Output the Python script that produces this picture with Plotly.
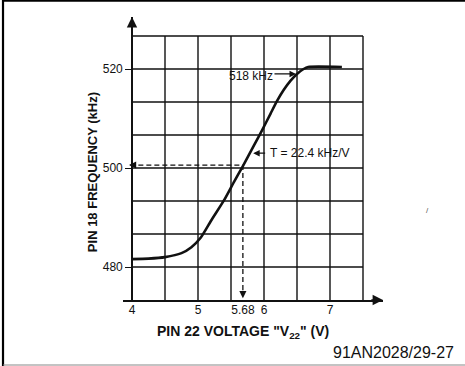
import plotly.graph_objects as go

# VCO transfer curve: pin 18 frequency versus pin 22 control voltage
voltage = [4.0, 4.25, 4.5, 4.75, 4.9, 5.04, 5.2, 5.4, 5.55, 5.68, 5.85, 5.97, 6.1, 6.2, 6.3, 6.4, 6.5, 6.6, 6.67, 7.18]
frequency = [481.6, 481.7, 482.0, 482.8, 484.0, 485.9, 489.4, 493.6, 497.3, 500.4, 504.6, 507.6, 511.0, 513.6, 515.8, 517.6, 519.0, 520.0, 520.4, 520.4]

x_ticks = [4, 5, 5.68, 6, 7]
x_tick_text = ["4", "5", "5.68", "6", "7"]
y_ticks = [480, 500, 520]
y_tick_text = ["480", "500", "520"]

# operating point and annotations
v_op, f_op = 5.68, 500.6
slope_label = "T = 22.4 kHz/V"
top_label = "518 kHz"
figure_id = "91AN2028/29-27"

# chart frame in data units
x_min, x_max = 3.8636, 7.803
y_min, y_max = 473.333, 530.505
grid_x = [4 + 0.5 * i for i in range(8)]
grid_y = [y_min + 20 / 3 * k for k in range(1, 9)]
grid_top = grid_y[-1]

FONT = "Liberation Sans, Arial, sans-serif"
INK = "#111111"

fig = go.Figure()
fig.add_trace(go.Scatter(x=voltage, y=frequency, mode="lines",
                         line=dict(color=INK, width=2.6, shape="spline", smoothing=0.6),
                         hoverinfo="skip", showlegend=False))

shapes = []
for gx in grid_x:
    shapes.append(dict(type="line", xref="x", yref="y", x0=gx, x1=gx, y0=y_min, y1=grid_top,
                       line=dict(color=INK, width=1.4), layer="below"))
for gy in grid_y:
    shapes.append(dict(type="line", xref="x", yref="y", x0=4, x1=7.5, y0=gy, y1=gy,
                       line=dict(color=INK, width=1.4), layer="below"))
# dashed construction lines through the operating point
shapes.append(dict(type="line", xref="x", yref="y", x0=3.975, x1=v_op, y0=f_op, y1=f_op,
                   line=dict(color=INK, width=1.3, dash="5px,3px")))
shapes.append(dict(type="line", xref="x", yref="y", x0=v_op, x1=v_op, y0=f_op, y1=474.2,
                   line=dict(color=INK, width=1.3, dash="5px,3px")))
# page frame
shapes.append(dict(type="line", xref="paper", yref="paper", x0=-0.4615, x1=-0.4615, y0=-0.24, y1=1.07,
                   line=dict(color="#000000", width=2.2)))
shapes.append(dict(type="line", xref="paper", yref="paper", x0=-0.4615, x1=1.32, y0=1.057, y1=1.057,
                   line=dict(color="#000000", width=1.8)))
shapes.append(dict(type="line", xref="paper", yref="paper", x0=-0.4615, x1=1.32, y0=-0.2297, y1=-0.2297,
                   line=dict(color="#888888", width=1.2)))

def arrow(x, y, ax, ay, width=1.4, size=1.2):
    return dict(x=x, y=y, ax=ax, ay=ay, xref="x", yref="y", axref="x", ayref="y",
                text="", showarrow=True, arrowhead=2, arrowsize=size, arrowwidth=width,
                arrowcolor=INK)

annotations = [
    # axis arrowheads
    arrow(4, y_max, 4, y_max - 3, width=1.6, size=1.3),
    arrow(x_max, y_min, x_max - 0.2, y_min, width=1.6, size=1.3),
    # dashed-line arrowheads
    arrow(3.955, f_op, 4.05, f_op, width=1.3, size=1.1),
    arrow(v_op, 473.7, v_op, 475.5, width=1.3, size=1.1),
    # callouts
    arrow(6.485, 519.0, 6.136, 519.0, width=1.3, size=1.0),
    arrow(5.836, 503.0, 6.04, 503.0, width=1.3, size=1.0),
    dict(x=5.803, y=518.6, xref="x", yref="y", text=top_label, showarrow=False,
         xanchor="center", yanchor="middle",
         font=dict(family=FONT, size=12, color=INK)),
    dict(x=6.06, y=503.0, xref="x", yref="y", text=slope_label, showarrow=False,
         xanchor="left", yanchor="middle",
         font=dict(family=FONT, size=12, color=INK)),
    # axis titles
    dict(x=0.4615, y=-0.113, xref="paper", yref="paper", showarrow=False,
         xanchor="center", yanchor="middle",
         text='<b>PIN 22 VOLTAGE "V<sub>22</sub>" (V)</b>',
         font=dict(family=FONT, size=14, color=INK)),
    dict(x=-0.119, y=0.452, xref="paper", yref="paper", showarrow=False, textangle=-90,
         xanchor="center", yanchor="middle",
         text="<b>PIN 18 FREQUENCY (kHz)</b>",
         font=dict(family=FONT, size=13, color=INK)),
    dict(x=1.282, y=-0.184, xref="paper", yref="paper", showarrow=False,
         xanchor="right", yanchor="middle",
         text=figure_id, font=dict(family=FONT, size=16, color=INK)),
    dict(x=1.173, y=0.318, xref="paper", yref="paper", showarrow=False,
         xanchor="center", yanchor="middle",
         text="/", font=dict(family=FONT, size=8, color="#555555")),
]

fig.update_layout(
    width=465, height=366,
    margin=dict(l=123, r=82, t=17, b=66),
    paper_bgcolor="white", plot_bgcolor="white",
    shapes=shapes, annotations=annotations,
    xaxis=dict(range=[x_min, x_max], tickvals=x_ticks, ticktext=x_tick_text,
               showgrid=False, zeroline=False, showline=True, linecolor=INK, linewidth=1.6,
               ticks="", ticklabelstandoff=-2,
               tickfont=dict(family=FONT, size=12, color=INK)),
    yaxis=dict(range=[y_min, y_max], tickvals=y_ticks, ticktext=y_tick_text,
               anchor="free", position=9 / 260,
               showgrid=False, zeroline=False, showline=True, linecolor=INK, linewidth=1.6,
               ticks="outside", ticklen=6, tickwidth=1.3, tickcolor=INK,
               tickfont=dict(family=FONT, size=12, color=INK)),
)

fig.write_html("out.html")
